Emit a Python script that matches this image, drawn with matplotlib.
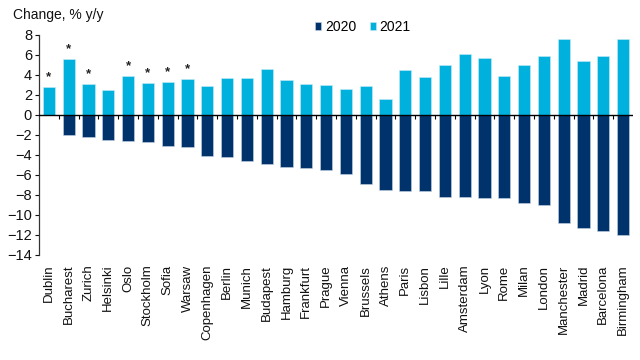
import numpy as np
import matplotlib
matplotlib.use("Agg")
import matplotlib.pyplot as plt

cities = ["Dublin", "Bucharest", "Zurich", "Helsinki", "Oslo", "Stockholm", "Sofia",
          "Warsaw", "Copenhagen", "Berlin", "Munich", "Budapest", "Hamburg", "Frankfurt",
          "Prague", "Vienna", "Brussels", "Athens", "Paris", "Lisbon", "Lille",
          "Amsterdam", "Lyon", "Rome", "Milan", "London", "Manchester", "Madrid",
          "Barcelona", "Birmingham"]
change_2020 = [0.0, -2.0, -2.2, -2.5, -2.6, -2.7, -3.1, -3.2, -4.1, -4.2, -4.6, -4.9,
               -5.2, -5.3, -5.5, -5.9, -6.9, -7.5, -7.6, -7.6, -8.2, -8.2, -8.3, -8.3,
               -8.8, -9.0, -10.8, -11.3, -11.6, -12.0]
change_2021 = [2.8, 5.6, 3.1, 2.5, 3.9, 3.2, 3.3, 3.6, 2.9, 3.7, 3.7, 4.6, 3.5, 3.1,
               3.0, 2.6, 2.9, 1.6, 4.5, 3.8, 5.0, 6.1, 5.7, 3.9, 5.0, 5.9, 7.6, 5.4,
               5.9, 7.6]
starred = ["Dublin", "Bucharest", "Zurich", "Oslo", "Stockholm", "Sofia", "Warsaw"]

yticks = list(range(-14, 9, 2))

plt.rcParams['font.family'] = ['Liberation Sans', 'DejaVu Sans']
dark = "#00336B"
light = "#00B0DD"

fig = plt.figure(figsize=(6.4, 3.6), dpi=100)
ax = fig.add_axes([39 / 640, 1 - 255 / 360, (633 - 39) / 640, 220 / 360])

x = np.arange(len(cities))
ax.bar(x, change_2020, width=0.62, color=dark, edgecolor="#c8d4e4", linewidth=0.4, label="2020")
ax.bar(x, change_2021, width=0.62, color=light, edgecolor="#c8ecf7", linewidth=0.4, label="2021")

for i, c in enumerate(cities):
    if c in starred:
        ax.annotate("*", (i, change_2021[i]), xytext=(0, 3), textcoords="offset points",
                    ha="center", va="bottom", fontsize=9.5, fontweight="bold", color="#222222")

# zero line with boundary ticks
ax.axhline(0, color="black", lw=1.0, zorder=3)
bounds = np.arange(len(cities) + 1) - 0.5
ax.vlines(bounds[1:-1], -0.4, 0, color="black", lw=0.8, zorder=3)

ax.set_xlim(-0.5, len(cities) - 0.5)
ax.set_ylim(-14, 8)
ax.set_yticks(yticks)
ax.set_xticks(x)
ax.set_xticklabels(cities, rotation=90, fontsize=9.5, color="#111111")
ax.tick_params(axis="x", length=0, pad=7)
ax.tick_params(axis="y", direction="out", length=3, width=0.8, labelsize=10.5, pad=2, colors="#111111")

for s in ["top", "right", "bottom"]:
    ax.spines[s].set_visible(False)
ax.spines["left"].set_linewidth(0.9)
ax.spines["left"].set_color("#333333")

fig.text(13 / 640, 1 - 15 / 360, "Change, % y/y", fontsize=10, va="center", ha="left", color="#111111")

ax.legend(loc="center", bbox_to_anchor=(363 / 640, 1 - 27 / 360), bbox_transform=fig.transFigure,
          ncol=2, frameon=False, fontsize=10, handlelength=0.45, handleheight=0.45,
          handletextpad=0.25, columnspacing=1.0)

fig.savefig("out.png", dpi=100)
